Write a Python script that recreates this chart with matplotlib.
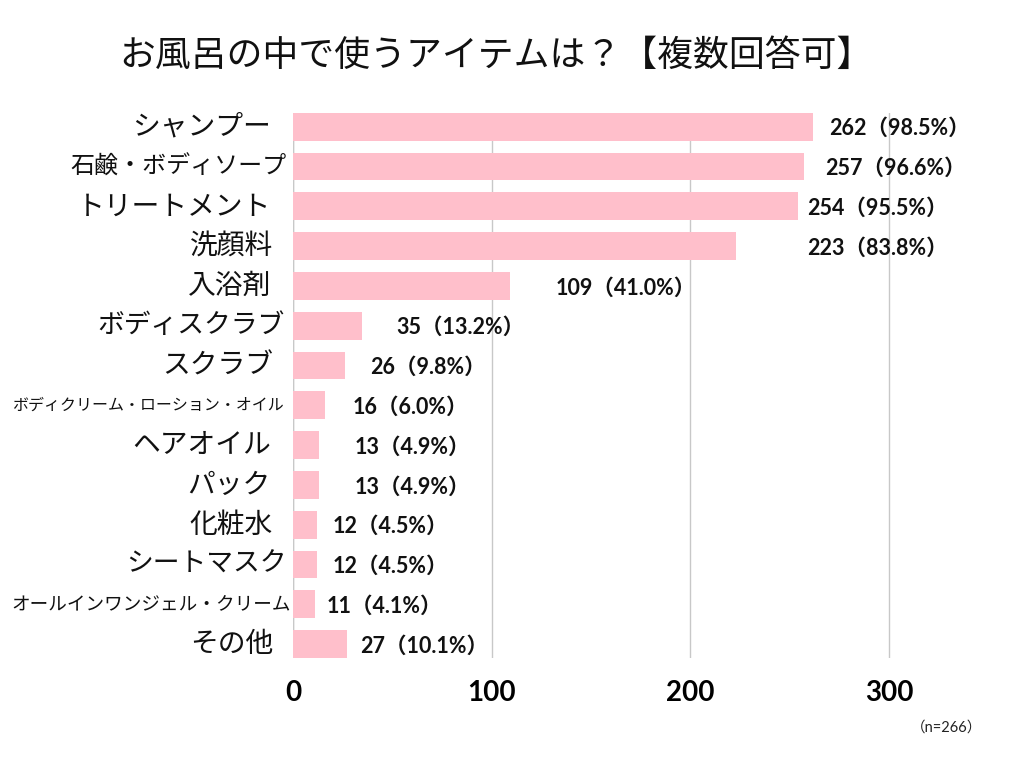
import matplotlib
matplotlib.use("Agg")
import matplotlib.pyplot as plt

plt.rcParams['font.family'] = ['Noto Sans CJK JP', 'DejaVu Sans']

# --- data ---
categories = ['シャンプー', '石鹸・ボディソープ', 'トリートメント', '洗顔料', '入浴剤',
              'ボディスクラブ', 'スクラブ', 'ボディクリーム・ローション・オイル',
              'ヘアオイル', 'パック', '化粧水', 'シートマスク',
              'オールインワンジェル・クリーム', 'その他']
counts = [262, 257, 254, 223, 109, 35, 26, 16, 13, 13, 12, 12, 11, 27]
percents = [98.5, 96.6, 95.5, 83.8, 41.0, 13.2, 9.8, 6.0, 4.9, 4.9, 4.5, 4.5, 4.1, 10.1]
n_total = 266

# --- style ---
label_sizes = [20, 17.3, 20, 20, 20, 19.3, 20, 11.5, 20, 20, 20, 19.3, 13.4, 20]
label_pad = [22, 6, 22, 20, 22, 8, 20, 9, 22, 22, 20, 6, 2, 20]
value_gap = [8, 11, 5, 36, 23, 17, 13, 14, 18, 18, 8, 8, 6, 7]
bar_color = '#FFBFCB'
num_font = ['Lato', 'Noto Sans CJK JP']

fig = plt.figure(figsize=(10.24, 7.68), dpi=100)
ax = fig.add_axes([0.2861, 0.1432, 0.679, 0.710])

y = list(range(len(categories)))
ax.barh(y, counts, height=0.70, color=bar_color, zorder=2)
ax.set_ylim(len(categories) - 0.65, -0.35)
ax.set_xlim(0, 350)

ax.set_xticks([0, 100, 200, 300])
ax.set_xticklabels(['0', '100', '200', '300'], fontsize=20, family=num_font, fontweight='bold')
ax.tick_params(axis='x', length=0, pad=16)
ax.set_yticks([])
ax.grid(axis='x', color='#c8c8c8', linewidth=1, zorder=0)
ax.axvline(0, color='#c8c8c8', linewidth=1, zorder=0)
for s in ax.spines.values():
    s.set_visible(False)

for i, cat in enumerate(categories):
    ax.annotate(cat, xy=(0, i), xycoords=('axes fraction', 'data'),
                xytext=(-label_pad[i], 0), textcoords='offset pixels',
                ha='right', va='center', fontsize=label_sizes[i], color='#111111')
    ax.text(counts[i] + value_gap[i], i + 0.05, f'{counts[i]}（{percents[i]:.1f}%）',
            ha='left', va='center', fontsize=15.5, family=num_font,
            fontweight='bold', color='#111111')

fig.text(0.484, 0.927, 'お風呂の中で使うアイテムは？【複数回答可】',
         ha='center', va='center', fontsize=25.8, color='#111111')
fig.text(0.924, 0.053, f'（n={n_total}）', ha='center', va='center',
         fontsize=10.5, family=num_font, color='#222222')

fig.savefig('out.png', dpi=100)
